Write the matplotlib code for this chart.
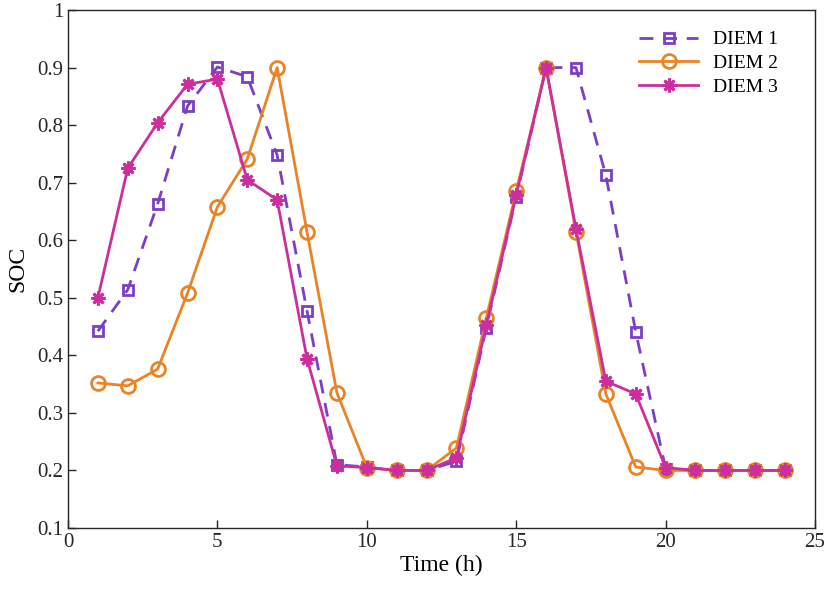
import matplotlib
matplotlib.use("Agg")
import matplotlib.pyplot as plt

hours = list(range(1, 25))
diem1 = [0.442, 0.514, 0.663, 0.833, 0.901, 0.884, 0.748, 0.477, 0.210, 0.206, 0.200, 0.200,
         0.216, 0.448, 0.675, 0.900, 0.900, 0.713, 0.441, 0.203, 0.200, 0.200, 0.200, 0.200]
diem2 = [0.352, 0.347, 0.376, 0.508, 0.658, 0.741, 0.900, 0.614, 0.335, 0.205, 0.200, 0.200,
         0.239, 0.465, 0.685, 0.900, 0.615, 0.333, 0.206, 0.200, 0.200, 0.200, 0.200, 0.200]
diem3 = [0.500, 0.725, 0.804, 0.871, 0.880, 0.705, 0.670, 0.394, 0.208, 0.205, 0.200, 0.200,
         0.222, 0.452, 0.678, 0.900, 0.620, 0.355, 0.333, 0.205, 0.200, 0.200, 0.200, 0.200]
labels = ["DIEM 1", "DIEM 2", "DIEM 3"]

plt.rcParams['font.family'] = ['Liberation Serif', 'DejaVu Serif']

fig = plt.figure(figsize=(8.34, 5.92), dpi=100)
ax = fig.add_axes([68/834, 1-528/592, (815-68)/834, (528-10)/592])

c1, c2, c3 = '#7B3FC6', '#EA8325', '#CC2E9E'
ax.plot(hours, diem1, linestyle=(0, (5, 3.5)), color=c1, lw=2, marker='s', ms=7,
        mfc='none', mew=2, label=labels[0])
ax.plot(hours, diem2, '-', color=c2, lw=2, marker='o', ms=10, mfc='none', mew=2, label=labels[1])
ax.plot(hours, diem3, '-', color=c3, lw=2, marker=(8, 2, 0), ms=10, mew=2, label=labels[2])

ax.set_xlim(0, 25)
ax.set_ylim(0.1, 1.0)
ax.set_xticks([0, 5, 10, 15, 20, 25])
ax.set_yticks([0.1, 0.2, 0.3, 0.4, 0.5, 0.6, 0.7, 0.8, 0.9, 1.0])
ax.set_yticklabels(['0.1', '0.2', '0.3', '0.4', '0.5', '0.6', '0.7', '0.8', '0.9', '1'])
ax.tick_params(direction='in', labelsize=15, length=6, width=1, colors='#262626')
for s in ax.spines.values():
    s.set_color('#262626')
    s.set_linewidth(1)
ax.set_xlabel('Time (h)', fontsize=17, labelpad=2)
ax.set_ylabel('SOC', fontsize=17, labelpad=6)

leg = ax.legend(loc='upper right', fontsize=14, frameon=False, handlelength=3.0,
                borderaxespad=0, labelspacing=0.32, handletextpad=0.8,
                bbox_to_anchor=(1 - 29/747, 1 - 13/518))

fig.savefig('out.png', dpi=100)
